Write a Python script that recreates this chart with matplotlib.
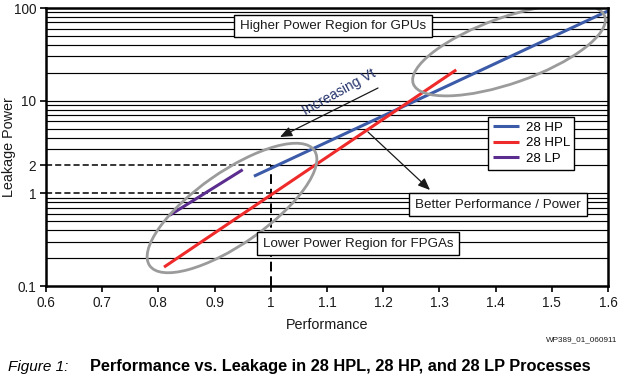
import matplotlib
matplotlib.use("Agg")
import matplotlib.pyplot as plt
from matplotlib.patches import Ellipse, Rectangle
from matplotlib.transforms import Affine2D
import numpy as np

plt.rcParams['font.family'] = ['Liberation Sans', 'DejaVu Sans']

# ---- data ----
hp_x = [0.97, 1.60]
hp_y = [1.53, 93.0]
hpl_x = [0.81, 1.33]
hpl_y = [0.16, 21.5]
lp_x = [0.82, 0.95]
lp_y = [0.58, 1.80]
series_names = ["28 HP", "28 HPL", "28 LP"]
series_colors = ["#3b5aa8", "#ee2a2a", "#5b2d8e"]

x_ticks = [0.6, 0.7, 0.8, 0.9, 1.0, 1.1, 1.2, 1.3, 1.4, 1.5, 1.6]
x_ticklabels = ["0.6", "0.7", "0.8", "0.9", "1", "1.1", "1.2", "1.3", "1.4", "1.5", "1.6"]
y_ticks = [0.1, 1, 2, 10, 100]
y_ticklabels = ["0.1", "1", "2", "10", "100"]
ref_perf = 1.0
ref_levels = [1.0, 2.0]

W, H = 620, 378
fig = plt.figure(figsize=(W / 100, H / 100), dpi=100)
AL, AR, AT, AB = 46, 608, 8, 286
ax = fig.add_axes([AL / W, 1 - AB / H, (AR - AL) / W, (AB - AT) / H])
aw, ah = AR - AL, AB - AT

ax.set_xscale('linear')
ax.set_yscale('log')
ax.set_xlim(0.6, 1.6)
ax.set_ylim(0.1, 100)

# transform: pixel coords relative to axes bottom-left (y up)
pxT = Affine2D().scale(1 / aw, 1 / ah) + ax.transAxes


def P(px, py):
    # image pixel -> axes pixel (y up)
    return (px - AL, AB - py)


# ---- grid lines ----
grid_vals = []
for dec in [0.1, 1, 10]:
    for m in range(1, 10):
        grid_vals.append(dec * m)
for v in grid_vals:
    if v <= 0.1 + 1e-9:
        continue
    if any(abs(v - r) < 1e-9 for r in ref_levels):
        ax.plot([0.6, ref_perf], [v, v], color='black', lw=1.1, ls=(0, (4, 2)), zorder=1)
        ax.plot([ref_perf, 1.6], [v, v], color='black', lw=0.85, zorder=1)
    else:
        ax.axhline(v, color='black', lw=0.85, zorder=1)
ax.plot([ref_perf, ref_perf], [0.1, max(ref_levels)], color='black', lw=1.4,
        ls=(0, (5, 2.5)), zorder=1)

# ---- series ----
lines = []
for xs, ys, c, n in zip([hp_x, hpl_x, lp_x], [hp_y, hpl_y, lp_y], series_colors, series_names):
    l, = ax.plot(xs, ys, color=c, lw=2.2, label=n, zorder=4, solid_capstyle='butt')
    lines.append(l)

# ---- ellipses ----
e1 = Ellipse(P(232, 208), 201, 72, angle=35, transform=pxT, fill=False,
             edgecolor='#9b9b9b', lw=2.0, zorder=5)
e2 = Ellipse(P(509, 50), 203, 66, angle=19.4, transform=pxT, fill=False,
             edgecolor='#9b9b9b', lw=2.0, zorder=5)
ax.add_patch(e1)
ax.add_patch(e2)

# ---- boxes ----
def box(x0, y0, x1, y1, text):
    (bx0, by0) = P(x0, y1)
    r = Rectangle((bx0, by0), x1 - x0, y1 - y0, transform=pxT, facecolor='white',
                  edgecolor='black', lw=1.0, zorder=6)
    ax.add_patch(r)
    cx, cy = P((x0 + x1) / 2, (y0 + y1) / 2)
    ax.text(cx, cy, text, transform=pxT, ha='center', va='center', fontsize=9.6,
            color='#1a1a1a', zorder=7)

box(234, 15, 432, 37, "Higher Power Region for GPUs")
box(409, 193, 587, 216, "Better Performance / Power")
box(257, 232, 459, 255, "Lower Power Region for FPGAs")

# ---- arrows ----
ax.annotate("", xy=P(280, 137), xytext=P(378, 88), xycoords=pxT, textcoords=pxT,
            arrowprops=dict(arrowstyle='-|>,head_length=0.6,head_width=0.25', color='#1a1a1a',
                            lw=0.9, mutation_scale=12, shrinkA=0, shrinkB=0), zorder=7)
ax.annotate("", xy=P(430, 190), xytext=P(368, 132), xycoords=pxT, textcoords=pxT,
            arrowprops=dict(arrowstyle='-|>,head_length=0.6,head_width=0.25', color='#1a1a1a',
                            lw=0.9, mutation_scale=12, shrinkA=0, shrinkB=0), zorder=7)
cx, cy = P(339, 92)
ax.text(cx, cy, "Increasing Vt", transform=pxT, rotation=29, ha='center', va='center',
        fontsize=10, color='#24336b', zorder=7, rotation_mode='anchor')

# ---- legend ----
leg = ax.legend(handles=lines, loc='upper left',
                bbox_to_anchor=((488 - AL) / aw, (AB - 117) / ah),
                fontsize=9.5, frameon=True, fancybox=False, edgecolor='black',
                handlelength=2.0, handletextpad=0.5, labelspacing=0.25,
                borderpad=0.35, borderaxespad=0)
leg.get_frame().set_linewidth(1.0)
leg.get_frame().set_alpha(1)
leg.set_zorder(8)

# ---- axes style ----
for s in ax.spines.values():
    s.set_linewidth(1.8)
    s.set_zorder(9)
ax.set_xticks(x_ticks)
ax.set_xticklabels(x_ticklabels)
ax.set_yticks(y_ticks)
ax.set_yticklabels(y_ticklabels)
ax.yaxis.set_minor_locator(matplotlib.ticker.NullLocator())
ax.tick_params(axis='both', which='major', direction='out', length=4, width=1.2,
               labelsize=9.8, pad=3, colors='black', labelcolor='#1a1a1a')
ax.set_xlabel("Performance", fontsize=10.4, color='#1a1a1a', labelpad=6)
ax.set_ylabel("Leakage Power", fontsize=10.4, color='#1a1a1a')
ax.yaxis.set_label_coords((9 - AL) / aw, 0.5)
ax.yaxis.label.set_verticalalignment('center')

fig.text(617 / W, 1 - 340 / H, "WP389_01_060911", ha='right', va='center', fontsize=5.9,
         color='#1a1a1a')
fig.text(8 / W, 1 - 367 / H, "Figure 1:", ha='left', va='center', fontsize=11,
         style='italic', color='black')
fig.text(90 / W, 1 - 367 / H, "Performance vs. Leakage in 28 HPL, 28 HP, and 28 LP Processes",
         ha='left', va='center', fontsize=11.8, fontweight='bold', color='black')

fig.savefig("out.png", dpi=100)
